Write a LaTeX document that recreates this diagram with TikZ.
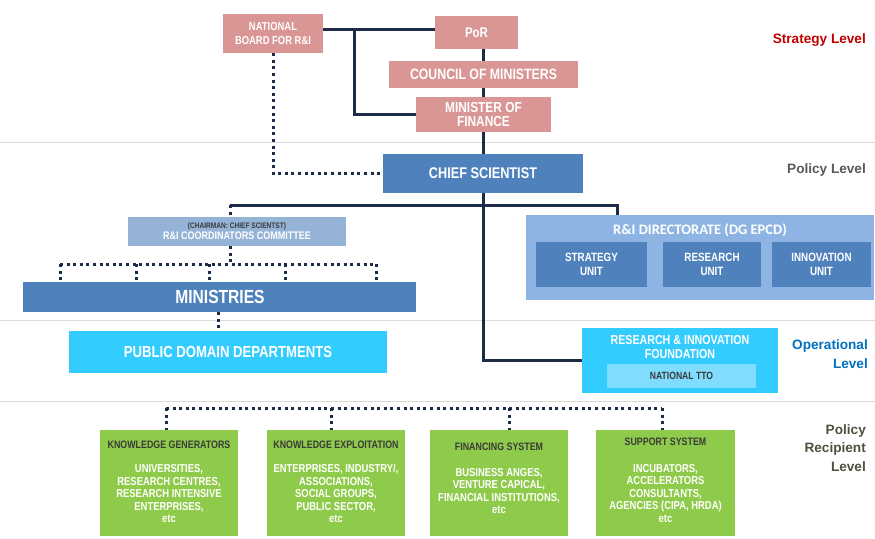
\documentclass[tikz,border=0pt]{standalone}
\usepackage{fontspec}
\setmainfont{Liberation Sans}
\newfontfamily\nar{Liberation Sans}[FakeStretch=0.82]
\newfontfamily\calfont{Carlito}
\usetikzlibrary{calc}
\definecolor{pinkbox}{HTML}{D99694}
\definecolor{bluebox}{HTML}{4F81BD}
\definecolor{lightblue}{HTML}{8DB4E2}
\definecolor{commblue}{HTML}{95B3D7}
\definecolor{cyanbox}{HTML}{33CCFF}
\definecolor{ttobox}{HTML}{80DDFF}
\definecolor{greenbox}{HTML}{8FCB4A}
\definecolor{navy}{HTML}{1C2B48}
\definecolor{sepgrey}{HTML}{DADADA}
\definecolor{darktxt}{HTML}{3A3A3A}
\definecolor{strat}{HTML}{C00000}
\definecolor{polgrey}{HTML}{595959}
\definecolor{opblue}{HTML}{0070C0}
\definecolor{recip}{HTML}{50503F}
\newcommand\fsz[2]{\fontsize{#1}{#2}\selectfont}
\begin{document}
\begin{tikzpicture}[x=1pt,y=-1pt,
  box/.style={draw=none, inner sep=0pt, align=center, text=white},
  conn/.style={draw=navy, line width=3pt},
  dots/.style={draw=navy, line width=3pt, dash pattern=on 3pt off 3.6pt},
  sep/.style={draw=sepgrey, line width=0.8pt},
  lvl/.style={anchor=east, align=right, inner sep=0pt, font=\bfseries\fsz{13.6}{18.5}},
  gtext/.style={anchor=north, align=center, inner sep=0pt, text=white, font=\nar\bfseries\fsz{11.5}{12.5}}
]
\useasboundingbox (0,0) rectangle (875,538);
\fill[white] (0,0) rectangle (875,538);

% separator lines
\draw[sep] (0,142) -- (875,142);
\draw[sep] (0,320) -- (875,320);
\draw[sep] (0,401) -- (875,401);

% strategy level
\node[box, fill=pinkbox, minimum width=100pt, minimum height=39pt, font=\nar\bfseries\fsz{11.5}{14}] (nb) at (273,33.5) {NATIONAL\\BOARD FOR R\&I};
\node[box, fill=pinkbox, minimum width=83pt, minimum height=33pt, font=\nar\bfseries\fsz{14}{16}] (por) at (476.5,32.5) {PoR};
\node[box, fill=pinkbox, minimum width=189pt, minimum height=27pt, font=\nar\bfseries\fsz{15}{17}] (com) at (483.5,74.5) {COUNCIL OF MINISTERS};
\node[box, fill=pinkbox, minimum width=135pt, minimum height=35pt, font=\nar\bfseries\fsz{14.5}{14}] (mof) at (483.5,114.5) {MINISTER OF\\FINANCE};

% policy level
\node[box, fill=bluebox, minimum width=200pt, minimum height=39pt, font=\nar\bfseries\fsz{15.5}{17}] (cs) at (483,173.5) {CHIEF SCIENTIST};
\node[box, fill=commblue, minimum width=218pt, minimum height=29pt, font=\nar\bfseries\fsz{11}{11}] (rcc) at (237,231.5) {{\color{darktxt}\fsz{8}{9}(CHAIRMAN: CHIEF SCIENTST)}\\R\&I COORDINATORS COMMITTEE};
\node[box, fill=bluebox, minimum width=393pt, minimum height=30pt] (min) at (219.5,297) {};
\node[box, font=\nar\bfseries\fsz{19}{20}] (mint) at (220,297) {MINISTRIES};

\node[box, fill=lightblue, minimum width=348pt, minimum height=85pt] (dir) at (700,257.5) {};
\node[box, font=\calfont\bfseries\fsz{14.5}{16}] (dirt) at (700,230) {R\&I DIRECTORATE (DG EPCD)};
\node[box, fill=bluebox, minimum width=111pt, minimum height=45pt, font=\nar\bfseries\fsz{12}{14}] (su) at (591.5,264.5) {STRATEGY\\UNIT};
\node[box, fill=bluebox, minimum width=98pt, minimum height=45pt, font=\nar\bfseries\fsz{12}{14}] (ru) at (712,264.5) {RESEARCH\\UNIT};
\node[box, fill=bluebox, minimum width=99pt, minimum height=45pt, font=\nar\bfseries\fsz{12}{14}] (iu) at (821.5,264.5) {INNOVATION\\UNIT};

% operational level
\node[box, fill=cyanbox, minimum width=318pt, minimum height=42pt, font=\nar\bfseries\fsz{16}{18}] (pdd) at (228,352) {PUBLIC DOMAIN DEPARTMENTS};
\node[box, fill=cyanbox, minimum width=196pt, minimum height=65pt] (rif) at (680,360.5) {};
\node[box, font=\nar\bfseries\fsz{13}{14}] (rift) at (680,347.5) {RESEARCH \& INNOVATION\\FOUNDATION};
\node[box, fill=ttobox, minimum width=149pt, minimum height=24pt, text=darktxt, font=\nar\bfseries\fsz{10.5}{12}] (tto) at (681.5,376) {NATIONAL TTO};

% recipient level
\node[box, fill=greenbox, minimum width=138pt, minimum height=106pt] (kg) at (169,483) {};
\node[box, fill=greenbox, minimum width=138pt, minimum height=106pt] (ke) at (336,483) {};
\node[box, fill=greenbox, minimum width=138pt, minimum height=106pt] (fs) at (499,483) {};
\node[box, fill=greenbox, minimum width=139pt, minimum height=106pt] (ss) at (665.5,483) {};

\node[gtext] (kgt) at (169,441) {{\color{darktxt}\fsz{10.8}{12.5}KNOWLEDGE GENERATORS}\\[11.5pt]UNIVERSITIES,\\RESEARCH CENTRES,\\RESEARCH INTENSIVE\\ENTERPRISES,\\etc};
\node[gtext] (ket) at (336,441) {{\color{darktxt}\fsz{10.8}{12.5}KNOWLEDGE EXPLOITATION}\\[11.5pt]ENTERPRISES, INDUSTRY/,\\ASSOCIATIONS,\\SOCIAL GROUPS,\\PUBLIC SECTOR,\\etc};
\node[gtext] (fst) at (499,443) {{\color{darktxt}\fsz{10.8}{12.5}FINANCING SYSTEM}\\[13pt]BUSINESS ANGES,\\VENTURE CAPICAL,\\FINANCIAL INSTITUTIONS,\\etc};
\node[gtext] (sst) at (665.5,438) {{\color{darktxt}\fsz{10.8}{12.5}SUPPORT SYSTEM}\\[14pt]INCUBATORS,\\ACCELERATORS\\CONSULTANTS,\\AGENCIES (CIPA, HRDA)\\etc};

% level labels
\node[lvl, text=strat] (l1) at (866,40) {Strategy Level};
\node[lvl, text=polgrey] (l2) at (866,170) {Policy Level};
\node[lvl, text=opblue] (l3) at (868,354) {Operational\\Level};
\node[lvl, text=recip] (l4) at (866,448) {Policy\\Recipient\\Level};

% solid connectors
\coordinate (j1) at (354,29);
\draw[conn] (nb.east |- j1) -- (por.west |- j1);
\draw[conn] (j1) |- (mof.west);
\draw[conn] (por.south -| cs.north) -- (com.north -| cs.north);
\draw[conn] (com.south -| cs.north) -- (mof.north -| cs.north);
\draw[conn] (mof.south -| cs.north) -- (cs.north);
\draw[conn] (cs.south) -- (cs.south |- rif.west) -- (rif.west);
\coordinate (h1) at (230,205);
\coordinate (h2) at (617,205);
\draw[conn] (h1) -- (h2) -- (h2 |- dir.north);

% dotted connectors
\draw[dots] (nb.south) -- (nb.south |- cs.west) -- (cs.west);
\draw[dots] (h1) -- (h1 |- rcc.north);
\coordinate (m0) at (230,264);
\coordinate (m1) at (60,264);
\coordinate (m2) at (136,264);
\coordinate (m3) at (209,264);
\coordinate (m4) at (285,264);
\coordinate (m5) at (376,264);
\draw[dots] (rcc.south -| m0) -- (m0);
\draw[dots] (m1) -- (m5);
\foreach \m in {m1,m2,m3,m4,m5} \draw[dots] (\m) -- (\m |- min.north);
\coordinate (d1) at (218,320);
\draw[dots] (min.south -| d1) -- (pdd.north -| d1);
\coordinate (b1) at (166,408);
\coordinate (b2) at (331,408);
\coordinate (b3) at (509,408);
\coordinate (b4) at (662,408);
\draw[dots] (b1) -- (b4);
\draw[dots] (b1) -- (b1 |- kg.north);
\draw[dots] (b2) -- (b2 |- ke.north);
\draw[dots] (b3) -- (b3 |- fs.north);
\draw[dots] (b4) -- (b4 |- ss.north);
\end{tikzpicture}
\end{document}
